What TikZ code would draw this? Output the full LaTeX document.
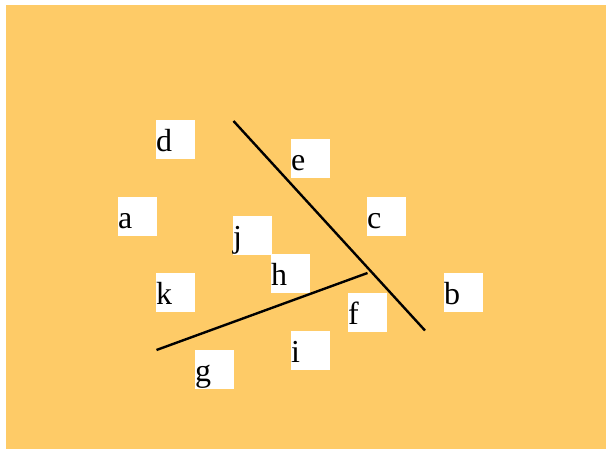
\documentclass[tikz,border=0pt]{standalone}
\usepackage{fontspec}
\setmainfont{Liberation Serif}
\definecolor{bgorange}{RGB}{254,203,103}
\begin{document}
\begin{tikzpicture}[x=1pt,y=-1pt,
  lbl/.style={fill=white, inner sep=0pt, anchor=north west,
    text width=39pt, align=left, text height=31.5pt, text depth=7.5pt,
    font=\fontsize{32}{32}\selectfont},
  seg/.style={line width=2.4pt, black}]
\useasboundingbox (0,0) rectangle (606,449);
\fill[white] (0,0) rectangle (606,449);
\fill[bgorange] (6,5) rectangle (606,449);
\node[lbl] (d) at (156,120) {d};
\node[lbl] (e) at (291,139) {e};
\node[lbl] (a) at (118,197) {a};
\node[lbl] (c) at (367,197) {c};
\node[lbl] (j) at (233,216) {j};
\node[lbl] (h) at (271,254) {h};
\node[lbl] (k) at (156,273) {k};
\node[lbl] (b) at (444,273) {b};
\node[lbl] (f) at (348,293) {f};
\node[lbl] (i) at (291,331) {i};
\node[lbl] (g) at (195,350) {g};
\coordinate (l1s) at (233.5,121);
\coordinate (l1e) at (425,330.5);
\coordinate (l2s) at (156.5,350);
\coordinate (l2e) at (367.5,273);
\draw[seg] (l1s) -- (l1e);
\draw[seg] (l2s) -- (l2e);
\end{tikzpicture}
\end{document}
